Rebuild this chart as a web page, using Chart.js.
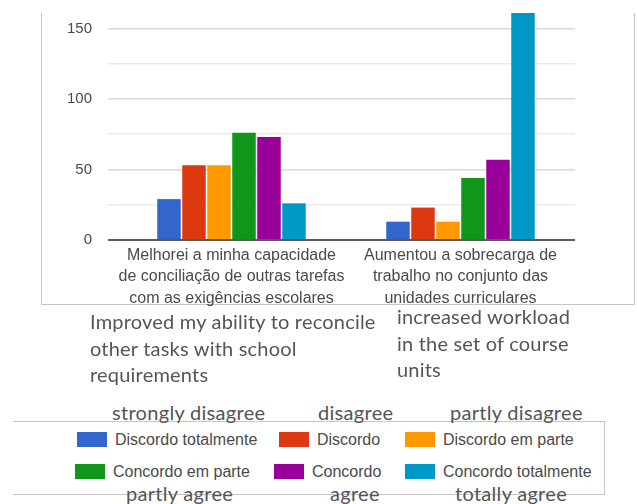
<!DOCTYPE html>
<html>
<head>
<meta charset="utf-8">
<script src="https://cdn.jsdelivr.net/npm/chart.js@4.4.1/dist/chart.umd.min.js"></script>
<style>
  body { margin: 0; background: #fff; }
  #page { position: relative; width: 637px; height: 504px; overflow: hidden; }
  #chartBox { position: absolute; left: 0; top: 0; width: 637px; height: 310px; }
  #frame {
    position: absolute; left: 41px; top: 13px; width: 592px; height: 291px;
    border-left: 1px solid #c6c6c6; border-right: 1px solid #c6c6c6; border-bottom: 1px solid #c6c6c6;
  }
  .note {
    position: absolute; font-family: Lato, "Open Sans", sans-serif; font-size: 20px; letter-spacing: 0.2px;
    color: #555; line-height: 26.5px; white-space: nowrap;
  }
  .tag { position: absolute; font-family: Lato, "Open Sans", sans-serif; font-size: 20px; letter-spacing: 0.3px; color: #555; white-space: nowrap; line-height: 22px; }
  #legendBox {
    position: absolute; left: 13px; top: 421px; width: 591px; height: 72px;
    border-top: 1px solid #c6c6c6; border-right: 1px solid #c6c6c6; border-bottom: 1px solid #c6c6c6;
  }
  .item { position: absolute; height: 18px; font-family: "Liberation Sans", Arial, sans-serif; font-size: 16px; color: #4a4a4a; white-space: nowrap; line-height: 18px; }
  .item span.sw { position: absolute; left: 0; top: 1px; width: 30px; height: 15px; }
  .item span.tx { position: absolute; left: 38px; top: 0; }
</style>
</head>
<body>
<div id="page">
  <div id="frame"></div>
  <div id="chartBox"><canvas id="chart"></canvas></div>

  <div class="note" style="left:90px; top:308px;">Improved my ability to reconcile<br>other tasks with school<br>requirements</div>
  <div class="note" style="left:397px; top:303px;">increased workload<br>in the set of course<br>units</div>

  <div id="legendBox"></div>
  <div id="legendItems"></div>

  <div class="tag" style="left:112px; top:401px;">strongly disagree</div>
  <div class="tag" style="left:318px; top:401px;">disagree</div>
  <div class="tag" style="left:450px; top:401px;">partly disagree</div>
  <div class="tag" style="left:126px; top:482px;">partly agree</div>
  <div class="tag" style="left:330px; top:482px;">agree</div>
  <div class="tag" style="left:455px; top:482px;">totally agree</div>
</div>

<script>
// categories (multi-line labels as in the original chart)
var categories = [
  ["Melhorei a minha capacidade", "de conciliação de outras tarefas", "com as exigências escolares"],
  ["Aumentou a sobrecarga de", "trabalho no conjunto das", "unidades curriculares"]
];

var seriesNames = [
  "Discordo totalmente",
  "Discordo",
  "Discordo em parte",
  "Concordo em parte",
  "Concordo",
  "Concordo totalmente"
];

var seriesColors = ["#3366cc", "#dc3912", "#ff9900", "#109618", "#990099", "#0099c6"];

// values per series: [first question, second question]
var discordoTotalmente = [29, 13];
var discordo = [53, 23];
var discordoEmParte = [53, 13];
var concordoEmParte = [76, 44];
var concordo = [73, 57];
var concordoTotalmente = [26, 166];

var yTicks = [0, 50, 100, 150];
var yMax = 161;

var seriesValues = [discordoTotalmente, discordo, discordoEmParte, concordoEmParte, concordo, concordoTotalmente];

var datasets = seriesNames.map(function (name, i) {
  return {
    label: name,
    data: seriesValues[i],
    backgroundColor: seriesColors[i],
    borderWidth: 0,
    barPercentage: 0.94,
    categoryPercentage: 0.655,
  };
});

var ctx = document.getElementById("chart").getContext("2d");

var chart = new Chart(ctx, {
  type: "bar",
  data: {
    labels: categories,
    datasets: datasets,
  },
  options: {
    responsive: true,
    maintainAspectRatio: false,
    animation: false,
    layout: { padding: { left: 0, right: 62, top: 13, bottom: 0 } },
    plugins: {
      legend: { display: false },
      tooltip: { enabled: false },
    },
    scales: {
      x: {
        grid: { display: false },
        border: { display: false },
        ticks: {
          autoSkip: false,
          maxRotation: 0,
          padding: -3,
          color: "#4a4a4a",
          font: { family: "'Liberation Sans', Arial, sans-serif", size: 16, lineHeight: 1.33 },
        },
        afterFit: function (axis) {
          axis.height = 70;
        },
      },
      y: {
        min: 0,
        max: yMax,
        border: { display: false },
        grid: {
          tickLength: 9,
          color: function (c) {
            if (c.tick.value === 0) return "#5a5a5a";
            return c.tick.value % 50 === 0 ? "#dadada" : "#ebebeb";
          },
          lineWidth: function (c) {
            return c.tick.value === 0 ? 2 : 1.6;
          },
        },
        ticks: {
          stepSize: 25,
          includeBounds: false,
          padding: 16,
          color: "#4a4a4a",
          font: { family: "'Liberation Sans', Arial, sans-serif", size: 15 },
          callback: function (v) {
            return yTicks.indexOf(v) >= 0 ? v : "";
          },
        },
        afterFit: function (axis) {
          axis.width = 117;
          // no extra room for the top label, the bars run to the frame top
          axis.paddingTop = 0;
          axis.paddingBottom = 0;
        },
      },
    },
  },
});

// legend built from the chart's own datasets
var legendPos = [
  { left: 77, top: 431 },
  { left: 279, top: 431 },
  { left: 405, top: 431 },
  { left: 75, top: 463 },
  { left: 274, top: 463 },
  { left: 405, top: 463 },
];
var holder = document.getElementById("legendItems");
chart.data.datasets.forEach(function (ds, i) {
  var el = document.createElement("div");
  el.className = "item";
  el.style.left = legendPos[i].left + "px";
  el.style.top = legendPos[i].top + "px";
  el.innerHTML = '<span class="sw" style="background:' + ds.backgroundColor + '"></span><span class="tx">' + ds.label + "</span>";
  holder.appendChild(el);
});
</script>
</body>
</html>
